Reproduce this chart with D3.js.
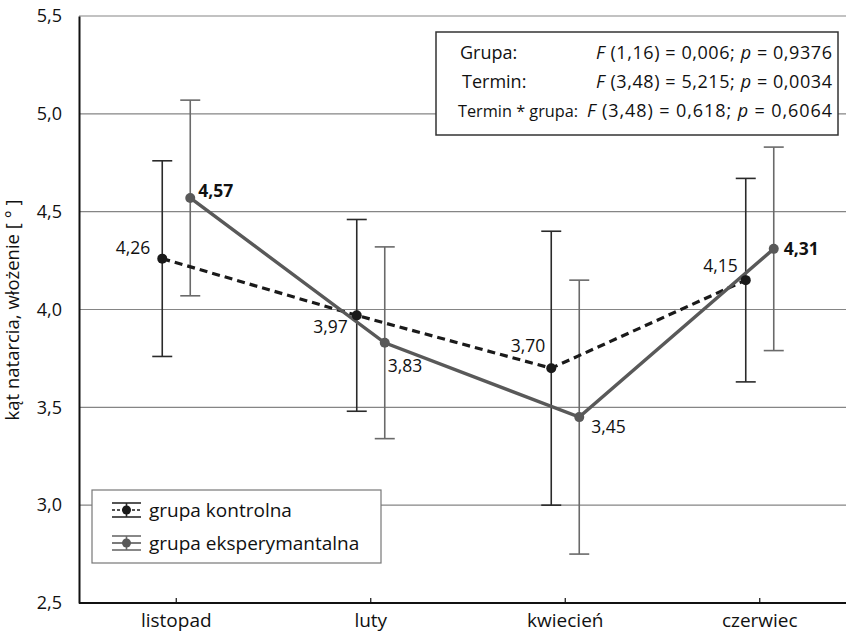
<!DOCTYPE html>
<html><head><meta charset="utf-8">
<script src="https://cdn.jsdelivr.net/npm/d3@7"></script>
<style>body{margin:0;background:#fff}svg{display:block}text{font-family:"Open Sans","Noto Sans",sans-serif;fill:#111}</style>
</head><body><svg id="c" width="846" height="639"></svg>
<script>
const categories = ["listopad","luty","kwiecień","czerwiec"];
const controlValues = [4.26,3.97,3.70,4.15];
const controlErr = [0.50,0.49,0.70,0.52];
const expValues = [4.57,3.83,3.45,4.31];
const expErr = [0.50,0.49,0.70,0.52];
const yTicks = [2.5,3.0,3.5,4.0,4.5,5.0,5.5];
const seriesNames = ["grupa kontrolna","grupa eksperymantalna"];
const statsLabels = ["Grupa:","Termin:","Termin * grupa:"];
const statsF = [["(1,16) = 0,006; ","= 0,9376"],["(3,48) = 5,215; ","= 0,0034"],["(3,48) = 0,618; ","= 0,6064"]];
const yTitle = "kąt natarcia, włożenie [ ° ]";

const svg = d3.select("#c");
const L=79, T=16, B=603, W=846;
const x = d3.scaleBand().domain(categories).range([L, L+4*194.5]);
const y = d3.scaleLinear().domain([2.5,5.5]).range([B,T]);
const off = 14;
const cx = (c,s)=>x(c)+x.bandwidth()/2+s*off;
const fmt = v=>d3.format(".2f")(v).replace(".",",");

// grid
svg.append("g").selectAll("line").data(yTicks.filter(t=>t>2.5)).join("line")
  .attr("x1",L).attr("x2",W).attr("y1",d=>y(d)).attr("y2",d=>y(d))
  .attr("stroke","#858585").attr("stroke-width",1.2);

// axes
const yAxis = d3.axisLeft(y).tickValues(yTicks).tickSize(0).tickPadding(17).tickFormat(d=>d3.format(".1f")(d).replace(".",","));
const ga = svg.append("g").attr("transform",`translate(${L},0)`).call(yAxis);
ga.select(".domain").attr("stroke","#111").attr("stroke-width",2);
ga.selectAll("text").style("font-size","18px").attr("font-family",null).attr("fill",null);
const xAxis = d3.axisBottom(x).tickSizeInner(-5).tickSizeOuter(0).tickPadding(14);
const gx = svg.append("g").attr("transform",`translate(0,${B})`).call(xAxis);
gx.select(".domain").attr("d",`M${L},0H${W}`).attr("stroke","#111").attr("stroke-width",2);
gx.selectAll(".tick line").attr("stroke","#111").attr("stroke-width",1.2).attr("y2",-5);
gx.selectAll("text").style("font-size","19px").attr("font-family",null).attr("fill",null).attr("dy","0.5em");

// y title
svg.append("text").attr("transform","translate(19,310) rotate(-90)").attr("text-anchor","middle")
  .style("font-size","18.5px").text(yTitle);

// error bars
function errBars(vals, errs, s, color){
  const g = svg.append("g").attr("stroke",color).attr("stroke-width",1.6);
  categories.forEach((c,i)=>{
    const xx=cx(c,s), y1=y(vals[i]+errs[i]), y2=y(vals[i]-errs[i]);
    g.append("line").attr("x1",xx).attr("x2",xx).attr("y1",y1).attr("y2",y2);
    g.append("line").attr("x1",xx-10).attr("x2",xx+10).attr("y1",y1).attr("y2",y1);
    g.append("line").attr("x1",xx-10).attr("x2",xx+10).attr("y1",y2).attr("y2",y2);
  });
}
errBars(controlValues, controlErr, -1, "#2a2a2a");
errBars(expValues, expErr, 1, "#6a6a6a");

// lines
const lineC = d3.line().x((d,i)=>cx(categories[i],-1)).y(d=>y(d));
const lineE = d3.line().x((d,i)=>cx(categories[i],1)).y(d=>y(d));
svg.append("path").attr("d",lineC(controlValues)).attr("fill","none").attr("stroke","#1a1a1a").attr("stroke-width",3.2).attr("stroke-dasharray","8,5");
svg.append("path").attr("d",lineE(expValues)).attr("fill","none").attr("stroke","#595959").attr("stroke-width",3.4);
svg.append("g").selectAll("circle").data(controlValues).join("circle")
  .attr("cx",(d,i)=>cx(categories[i],-1)).attr("cy",d=>y(d)).attr("r",5).attr("fill","#1a1a1a");
svg.append("g").selectAll("circle").data(expValues).join("circle")
  .attr("cx",(d,i)=>cx(categories[i],1)).attr("cy",d=>y(d)).attr("r",5).attr("fill","#595959");

// value labels
const cLab = [[-12,-11,"end"],[-9,12,"end"],[-6,-22,"end"],[-8,-14,"end"]];
const eLab = [[8,-7,"start"],[3,23,"start"],[12,10,"start"],[10,0,"start"]];
controlValues.forEach((v,i)=>{
  svg.append("text").attr("x",cx(categories[i],-1)+cLab[i][0]).attr("y",y(v)+cLab[i][1]).attr("dy","0.35em")
    .attr("text-anchor",cLab[i][2]).style("font-size","17.5px").text(fmt(v));
});
expValues.forEach((v,i)=>{
  svg.append("text").attr("x",cx(categories[i],1)+eLab[i][0]).attr("y",y(v)+eLab[i][1]).attr("dy","0.35em")
    .attr("text-anchor",eLab[i][2]).style("font-size","17.5px")
    .style("font-weight",(i===0||i===3)?"bold":null).text(fmt(v));
});

// stats box
svg.append("rect").attr("x",436).attr("y",32).attr("width",402).attr("height",103)
  .attr("fill","#fff").attr("stroke","#333").attr("stroke-width",1.5);
const rowsY=[59,88,117];
const fStart=[596,596,587];
statsLabels.forEach((l,i)=>{
  svg.append("text").attr("x",i===2?458:(i===0?460:462)).attr("y",rowsY[i])
    .style("font-size",i===2?"16.3px":"18px").text(l);
  const t = svg.append("text").attr("x",fStart[i]).attr("y",rowsY[i]).style("font-size","18px")
    .attr("textLength",832-fStart[i]).attr("lengthAdjust","spacing");
  t.append("tspan").style("font-style","italic").text("F ");
  t.append("tspan").text(statsF[i][0]);
  t.append("tspan").style("font-style","italic").text("p ");
  t.append("tspan").text(statsF[i][1]);
});

// legend
svg.append("rect").attr("x",92).attr("y",490).attr("width",289).attr("height",73)
  .attr("fill","#fff").attr("stroke","#777").attr("stroke-width",1.2);
[[510,"#1a1a1a","#2a2a2a",true],[543,"#595959","#6a6a6a",false]].forEach((d,i)=>{
  const g=svg.append("g");
  const x0=112,x1=141,xm=126.5;
  g.append("line").attr("x1",x0).attr("x2",x1).attr("y1",d[0]-7).attr("y2",d[0]-7).attr("stroke",d[2]).attr("stroke-width",1.6);
  g.append("line").attr("x1",x0).attr("x2",x1).attr("y1",d[0]+7).attr("y2",d[0]+7).attr("stroke",d[2]).attr("stroke-width",1.6);
  g.append("line").attr("x1",xm).attr("x2",xm).attr("y1",d[0]-7).attr("y2",d[0]+7).attr("stroke",d[2]).attr("stroke-width",1.6);
  g.append("line").attr("x1",x0).attr("x2",x1).attr("y1",d[0]).attr("y2",d[0]).attr("stroke",d[1]).attr("stroke-width",1.6)
    .attr("stroke-dasharray",d[3]?"3,2":null);
  g.append("circle").attr("cx",xm).attr("cy",d[0]).attr("r",4.5).attr("fill",d[1]);
  g.append("text").attr("x",149).attr("y",d[0]).attr("dy","0.35em").style("font-size","19px").text(seriesNames[i]);
});
</script></body></html>
